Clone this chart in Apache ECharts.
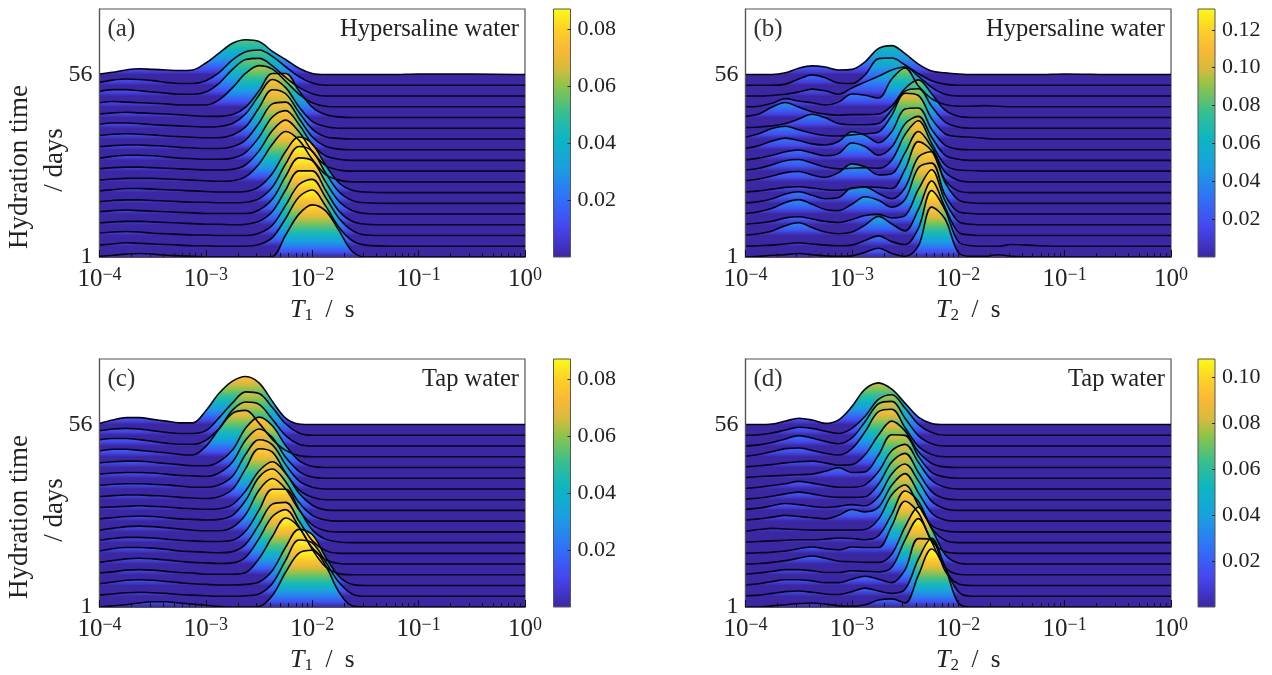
<!DOCTYPE html>
<html lang="en">

<head>
  <meta charset="UTF-8">
  <title>Hydration time distributions</title>
  <style>
    html, body { margin: 0; padding: 0; background: #fff; }
    #chart { width: 1272px; height: 675px; }
  </style>
</head>

<body>
  <div id="chart"></div>
</body>
<script src="https://cdn.jsdelivr.net/npm/echarts@6/dist/echarts.min.js"></script>
<script>
  // relaxation times shared by all the traces, in s
  var timeGrid = [1e-4, 1.33e-4, 1.78e-4, 2.37e-4, 3.16e-4, 4.22e-4, 5.62e-4, 7.5e-4, 1e-3, 1.33e-3, 1.78e-3, 2.37e-3, 3.16e-3, 4.22e-3, 5.62e-3, 7.5e-3, 0.01, 0.0133, 0.0178, 0.0237, 0.0316, 0.0562, 0.1, 0.316, 1]

  // traces are listed from day 1 (front) to day 56 (back)
  var panelA = [
    [1,3,5,6,5,3,2,1,0,0,0,0,0,1,38,74,90,80,46,10,0,0,0,0,0],
    [2,4,6,5,4,3,2,1,1,0,0,0,3,15,48,85,97,70,33,10,2,0,0,0,0],
    [4,6,7,6,4,3,2,1,1,0,0,0,4,18,52,88,97,66,30,9,1,0,0,0,0],
    [3,5,6,6,5,4,3,2,1,1,0,1,6,23,60,93,93,60,24,6,1,0,0,0,0],
    [4,6,7,6,5,4,3,2,1,1,1,1,7,26,65,97,92,56,22,6,1,0,0,0,0],
    [3,5,6,6,5,4,3,2,2,1,1,2,8,28,68,98,90,53,20,5,1,0,0,0,0],
    [3,5,7,7,6,5,4,3,2,1,1,2,10,33,71,96,84,48,17,4,1,0,0,0,0],
    [3,5,6,6,6,5,4,3,2,1,2,9,31,65,87,72,39,13,3,0,0,0,0,0,0],
    [4,6,7,7,6,5,4,3,2,2,3,11,35,70,88,68,34,10,2,0,0,0,0,0,0],
    [4,7,9,9,8,6,4,3,2,2,4,14,40,75,86,62,28,8,2,0,0,0,0,0,0],
    [5,7,8,8,7,6,4,3,2,2,5,17,46,79,82,54,22,6,1,0,0,0,0,0,0],
    [6,8,9,8,7,5,4,3,2,2,7,21,54,85,78,46,17,4,1,0,0,0,0,0,0],
    [7,9,9,8,6,5,4,3,2,3,8,25,57,84,70,37,12,3,0,0,0,0,0,0,0],
    [6,8,9,8,7,6,5,3,2,2,5,18,46,76,76,46,18,5,1,0,0,0,0,0,0],
    [7,9,8,7,6,5,3,3,3,12,33,58,71,65,44,22,7,1,0,0,0,0,0,0,0],
    [8,11,11,9,7,5,3,3,7,22,46,63,65,52,32,15,4,0,0,0,0,0,0,0,0],
    [5,9,11,10,8,5,3,3,8,22,44,58,61,50,32,15,4,0,0,0,0,0,0,0,0],
    [1,4,8,10,9,8,7,8,20,37,54,60,57,40,26,11,2,0,0,0,0,0,1,1,0]
  ]
  var panelB = [
    [0,1,3,4,6,4,2,1,2,8,15,6,1,19,86,66,8,1,1,4,1,0,0,0,0],
    [0,1,2,4,6,4,2,1,2,10,18,8,3,31,96,63,8,1,0,0,3,1,0,0,0],
    [1,3,8,17,22,14,6,3,6,18,33,20,8,45,94,49,6,1,0,0,0,0,0,0,0],
    [1,3,6,12,14,10,6,4,9,16,18,12,16,61,95,42,6,1,0,0,0,0,0,0,0],
    [1,4,10,20,25,17,8,6,17,30,24,12,25,80,88,33,4,1,0,0,0,0,0,0,0],
    [1,3,8,16,20,14,8,10,27,28,17,8,27,80,89,36,6,1,0,0,0,0,0,0,0],
    [1,3,6,9,10,8,5,4,7,10,9,7,40,88,72,22,3,0,0,0,0,0,0,0,0],
    [2,5,10,16,18,12,8,16,31,26,12,14,50,87,60,17,3,0,0,0,0,0,0,0,0],
    [2,5,11,18,20,14,7,4,5,6,5,19,63,87,48,11,2,1,0,0,0,0,0,0,0],
    [1,4,9,15,18,13,8,12,30,24,9,23,63,76,40,9,2,0,0,0,0,0,0,0,0],
    [2,7,15,20,16,10,8,14,31,25,12,31,70,72,35,8,1,0,0,0,0,0,0,0,0],
    [3,9,18,22,16,10,6,5,7,9,12,41,79,75,35,9,4,3,1,0,0,0,0,0,0],
    [1,2,4,8,16,24,18,8,6,6,8,32,64,68,38,11,2,0,0,0,0,0,0,0,0],
    [2,6,18,26,18,10,6,4,5,5,6,20,50,65,41,13,2,0,0,0,0,0,0,0,0],
    [0,1,6,14,10,7,3,8,22,20,15,48,67,36,14,4,1,1,2,1,0,0,0,0,0],
    [0,0,1,3,7,12,9,3,14,24,34,45,50,34,15,3,0,0,0,0,0,0,0,0,0],
    [0,0,0,2,11,18,13,4,3,18,46,47,35,20,8,2,0,0,0,0,0,0,0,0,0],
    [0,0,0,3,11,15,13,8,9,22,45,50,36,18,6,3,1,0,0,0,0,0,1,0,0]
  ]
  var panelC = [
    [0,2,4,7,9,9,7,5,3,1,0,0,1,20,60,93,98,72,26,2,0,0,0,0,0],
    [2,4,6,7,6,5,3,2,1,0,0,1,4,22,62,97,92,60,24,4,0,0,0,0,0],
    [3,6,9,10,9,7,5,3,2,1,1,2,6,26,66,97,88,50,16,2,0,0,0,0,0],
    [3,5,8,9,8,6,4,3,1,1,1,4,28,66,98,82,44,14,2,0,0,0,0,0,0],
    [3,6,9,10,9,7,5,3,2,1,2,12,44,82,94,64,28,8,1,0,0,0,0,0,0],
    [4,8,10,10,9,7,4,3,2,1,3,16,50,85,88,56,22,5,0,0,0,0,0,0,0],
    [4,7,9,9,8,6,4,3,2,2,4,20,56,92,92,58,22,6,1,0,0,0,0,0,0],
    [3,6,9,10,9,7,5,3,2,2,8,30,72,92,74,38,12,2,0,0,0,0,0,0,0],
    [4,6,8,9,8,6,4,3,2,3,10,36,76,90,68,32,10,2,0,0,0,0,0,0,0],
    [5,6,7,8,7,6,4,3,2,3,10,34,68,84,64,30,9,1,0,0,0,0,0,0,0],
    [5,7,8,8,7,6,4,3,2,5,18,54,88,82,46,17,4,0,0,0,0,0,0,0,0],
    [6,8,9,9,8,7,5,3,3,7,22,60,85,76,42,14,3,0,0,0,0,0,0,0,0],
    [7,9,10,10,9,7,5,4,3,9,28,66,85,70,36,12,2,0,0,0,0,0,0,0,0],
    [8,10,11,11,9,7,5,3,3,10,30,68,87,72,38,12,2,0,0,0,0,0,0,0,0],
    [10,13,13,11,9,7,4,3,18,48,75,80,58,30,11,2,0,0,0,0,0,0,0,0,0],
    [11,13,13,11,8,5,3,3,10,30,62,76,72,46,18,3,0,0,0,0,0,0,0,0,0],
    [8,11,12,11,8,5,3,3,8,30,56,75,72,48,20,4,0,0,0,0,0,0,0,0,0],
    [2,8,12,12,9,6,3,3,24,54,75,83,72,40,11,1,0,0,0,0,0,0,0,0,0]
  ]
  var panelD = [
    [0,0,2,4,6,7,5,2,1,4,12,14,7,55,100,68,7,0,0,0,0,0,0,0,0],
    [1,2,5,8,9,7,4,3,8,14,9,5,12,64,100,52,8,0,0,0,0,0,0,0,0],
    [1,3,7,10,10,8,5,5,11,16,11,5,27,81,79,26,3,0,0,0,0,0,0,0,0],
    [1,3,6,9,9,7,4,4,7,6,5,13,60,97,57,13,1,0,0,0,0,0,0,0,0],
    [0,1,3,6,10,14,10,5,4,3,3,17,64,98,61,17,2,0,0,0,0,0,0,0,0],
    [0,1,2,4,8,11,8,6,11,10,10,47,90,70,22,3,0,0,0,0,0,0,0,0,0],
    [1,2,3,4,5,5,6,8,7,5,12,49,89,71,25,4,0,0,0,0,0,0,0,0,0],
    [1,4,6,5,4,3,3,3,3,4,22,64,81,46,11,2,0,0,0,0,0,0,0,0,0],
    [2,4,7,10,8,6,4,10,20,16,24,62,82,49,14,2,0,0,0,0,0,0,0,0,0],
    [2,4,8,12,10,7,5,7,10,8,24,63,80,51,16,3,0,0,0,0,0,0,0,0,0],
    [1,3,6,10,13,10,6,4,4,5,27,65,80,47,14,2,0,0,0,0,0,0,0,0,0],
    [1,3,6,9,13,10,6,3,3,7,30,66,77,46,15,3,0,0,0,0,0,0,0,0,0],
    [1,3,4,5,6,7,12,18,10,11,40,75,74,38,10,2,0,0,0,0,0,0,0,0,0],
    [1,3,5,8,10,11,8,4,5,22,56,80,63,27,7,1,0,0,0,0,0,0,0,0,0],
    [1,4,9,14,15,11,6,3,14,43,78,82,50,18,4,0,0,0,0,0,0,0,0,0,0],
    [0,2,6,12,18,14,8,4,14,42,73,77,48,18,4,0,0,0,0,0,0,0,0,0,0],
    [0,1,4,9,14,12,7,3,12,33,62,70,47,19,5,0,0,0,0,0,0,0,0,0,0],
    [0,0,1,6,11,8,2,8,31,61,72,61,37,13,2,0,0,0,0,0,0,0,0,0,0]
  ]
  var colorTops = [0.087, 0.131, 0.087, 0.108]
  var tags = ['(a)', '(b)', '(c)', '(d)']
  var waters = ['Hypersaline water', 'Hypersaline water', 'Tap water', 'Tap water']
  var timeSymbols = ['1', '2', '1', '2']
  var dayLabels = ['1', '56']

  var FONT = '"Liberation Serif", serif'
  var TEXT = '#222'
  var FRAME = '#555'
  // parula-like colour bar
  var stops = [[0, '#3b27a4'], [0.12, '#4646ee'], [0.24, '#2f72f8'], [0.36, '#1a9fe0'], [0.48, '#0cb6c2'], [0.58, '#35bf92'], [0.69, '#8dc44a'], [0.76, '#d8ba3c'], [0.84, '#fbb935'], [0.92, '#fdd226'], [1, '#f9fb15']]

  function colorAt(t) {
    for (var i = 1; i < stops.length; i++) {
      if (t <= stops[i][0]) {
        var k = (t - stops[i - 1][0]) / (stops[i][0] - stops[i - 1][0])
        return echarts.color.lerp(k, [stops[i - 1][1], stops[i][1]])
      }
    }
    return stops[stops.length - 1][1]
  }

  var RIDGE_HEIGHT = 5.4 // full colour scale in trace spacings

  // gradient of one trace: its own peak colour at the top, base colour at its baseline,
  // and the fill carries on one spacing further down so no gap shows under flat parts
  function traceFill(peak, below) {
    var list = []
    var h = peak / 100 * RIDGE_HEIGHT
    var part = h / (h + below)
    var top = peak / 100 * 1.06
    for (var i = 0; i <= 10; i++) {
      var f = 1 - i / 10
      // warm colours hold a little longer near the crest, as in the picture
      list.push({ offset: part * i / 10, color: colorAt(Math.min(top * Math.pow(f, 0.8), 1)) })
    }
    list.push({ offset: 1, color: stops[0][1] })
    return new echarts.graphic.LinearGradient(0, 0, 0, 1, list)
  }

  var boxes = [
    { left: 99.5, top: 9, barLeft: 553.5 },
    { left: 745.5, top: 9, barLeft: 1198 },
    { left: 99.5, top: 359, barLeft: 553.5 },
    { left: 745.5, top: 359, barLeft: 1198 }
  ]
  var panels = [panelA, panelB, panelC, panelD]
  var grid = [], xAxis = [], yAxis = [], series = [], graphic = []

  panels.forEach(function (rows, p) {
    var box = boxes[p]
    var main = grid.length
    grid.push({ left: box.left, top: box.top, width: 425.5, height: 248, show: true, borderColor: FRAME, borderWidth: 1.2, backgroundColor: '#fff' })
    grid.push({ left: box.barLeft, top: box.top, width: 17, height: 248, show: true, borderColor: FRAME, borderWidth: 1, backgroundColor: 'transparent', z: 5 })

    xAxis.push({
      gridIndex: main, type: 'log', logBase: 10, min: 1e-4, max: 1, z: 6,
      name: '{i|T}{s|' + timeSymbols[p] + '}{r|  /  s}',
      nameLocation: 'middle', nameGap: 40,
      nameTextStyle: {
        rich: {
          i: { fontFamily: FONT, fontStyle: 'italic', fontSize: 26, color: TEXT, padding: [0, 0, 0, 20] },
          s: { fontFamily: FONT, fontSize: 17, color: TEXT, verticalAlign: 'bottom', padding: [10, 0, 0, 0] },
          r: { fontFamily: FONT, fontSize: 25, color: TEXT }
        }
      },
      axisLine: { show: true, lineStyle: { color: FRAME, width: 1.2 } },
      axisTick: { show: true, inside: true, length: 7, lineStyle: { color: '#111', width: 1 } },
      minorTick: { show: true, splitNumber: 9, length: 4, lineStyle: { color: '#111', width: 1 } },
      splitLine: { show: false },
      axisLabel: {
        margin: 9, hideOverlap: false,
        formatter: function (v) {
          var e = Math.round(Math.log(v) / Math.LN10)
          return '{b|10}{e|' + String(e).replace('-', '\u2212') + '}'
        },
        rich: {
          b: { fontFamily: FONT, fontSize: 25, color: TEXT, lineHeight: 26 },
          e: { fontFamily: FONT, fontSize: 18, color: TEXT, verticalAlign: 'top', lineHeight: 18 }
        }
      }
    })
    yAxis.push({
      gridIndex: main, type: 'value', min: 0, max: 23.11, interval: 17, z: 6,
      axisLine: { show: true, lineStyle: { color: FRAME, width: 1.2 } },
      axisTick: { show: false },
      splitLine: { show: false },
      axisLabel: {
        margin: 7, fontFamily: FONT, fontSize: 24, color: TEXT,
        formatter: function (v) {
          if (v === 0) return dayLabels[0]
          if (v === 17) return dayLabels[1]
          return ''
        }
      }
    })

    // colour bar
    xAxis.push({ gridIndex: main + 1, type: 'category', data: [''], axisLine: { show: false }, axisTick: { show: false }, axisLabel: { show: false } })
    yAxis.push({
      gridIndex: main + 1, type: 'value', position: 'right', min: 0, max: colorTops[p], interval: 0.02, z: 6,
      axisLine: { show: false },
      axisTick: { show: true, inside: true, length: 3, lineStyle: { color: '#222' } },
      splitLine: { show: false },
      axisLabel: {
        margin: 7, showMinLabel: false, showMaxLabel: false, fontFamily: FONT, fontSize: 22, color: TEXT,
        formatter: function (v) { return v.toFixed(2) }
      }
    })
    series.push({
      type: 'bar', xAxisIndex: main + 1, yAxisIndex: main + 1, data: [colorTops[p]], barWidth: '100%', silent: true, z: 2,
      itemStyle: {
        color: new echarts.graphic.LinearGradient(0, 1, 0, 0, stops.map(function (s) { return { offset: s[0], color: s[1] } }))
      }
    })

    // the back traces first, so that the front ones cover them
    for (var i = rows.length - 1; i >= 0; i--) {
      var row = rows[i]
      var below = i > 0 ? 1 : 0
      series.push({
        type: 'line', xAxisIndex: main, yAxisIndex: main, smooth: 0.35, showSymbol: false, silent: true, z: 3,
        data: row.map(function (u, j) { return [timeGrid[j], i + u / 100 * RIDGE_HEIGHT] }),
        lineStyle: { color: '#050510', width: 1.6 },
        areaStyle: { origin: i - below, opacity: 1, color: traceFill(Math.max.apply(null, row), below) }
      })
    }

    graphic.push({ type: 'text', left: box.left + 8, top: box.top + 8, z: 20, style: { text: tags[p], font: '25px ' + FONT, fill: '#333' } })
    graphic.push({ type: 'text', right: 1272 - box.left - 419.5, top: box.top + 8, z: 20, style: { text: waters[p], font: '24.5px ' + FONT, fill: TEXT } })
  })

  var yNames = [[20, 167], [55, 160], [20, 517], [55, 510]]
  var yTexts = ['Hydration time', '/ days', 'Hydration time', '/ days']
  yNames.forEach(function (pos, k) {
    graphic.push({ type: 'text', x: pos[0], y: pos[1], rotation: Math.PI / 2, z: 20, style: { text: yTexts[k], font: '27px ' + FONT, fill: TEXT, align: 'center', verticalAlign: 'middle' } })
  })

  var myChart = echarts.init(document.getElementById('chart'))
  myChart.setOption({
    animation: false,
    backgroundColor: '#fff',
    grid: grid, xAxis: xAxis, yAxis: yAxis, series: series, graphic: graphic
  })
</script>

</html>
